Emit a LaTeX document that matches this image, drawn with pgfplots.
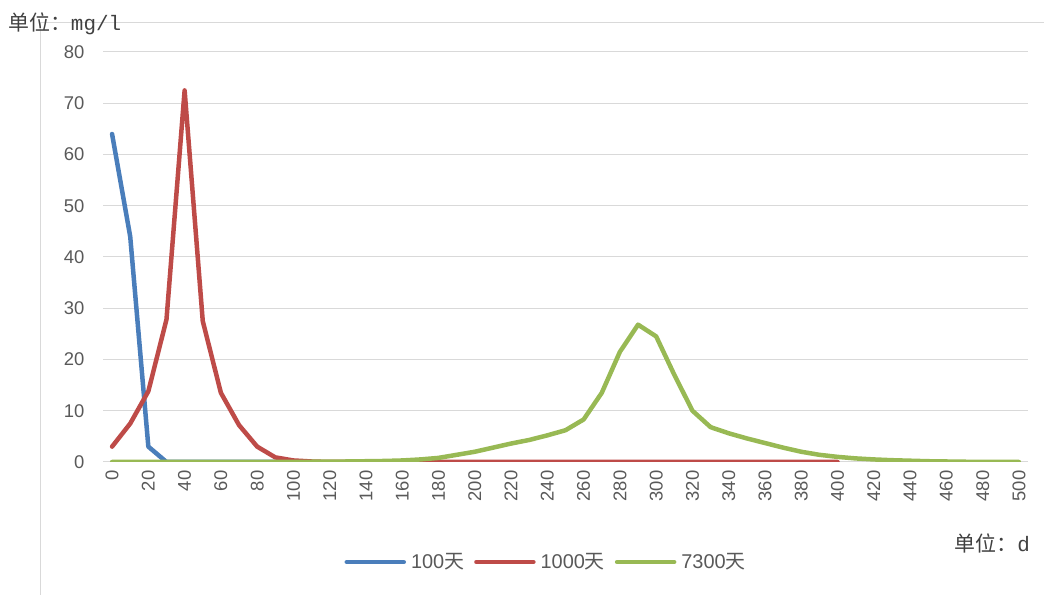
\documentclass[border=0pt]{standalone}
\usepackage{pgfplots}
\pgfplotsset{compat=1.18}
\usepackage{fontspec}
\setmainfont{Liberation Sans}
\setmonofont{Liberation Mono}
\newfontfamily\cjk{Noto Sans CJK SC}
\definecolor{cblue}{HTML}{4A7EBB}
\definecolor{cred}{HTML}{BE4B48}
\definecolor{cgreen}{HTML}{98B954}
\definecolor{tickgray}{HTML}{595959}
\definecolor{gridgray}{HTML}{D9D9D9}
\begin{document}
\begin{tikzpicture}
\useasboundingbox (0,0) rectangle (1044bp,595bp);
\draw[gridgray, line width=1bp] (40bp,0bp) -- (40bp,572.5bp) -- (1044bp,572.5bp);
\begin{axis}[
  scale only axis,
  width=925bp, height=410bp,
  at={(103bp,133bp)}, anchor=south west,
  xmin=-5, xmax=505, ymin=0, ymax=80,
  xtick={0,20,...,500},
  ytick={0,10,...,80},
  xticklabel pos=bottom, yticklabel pos=left,
  axis line style={draw=none},
  ymajorgrids, grid style={gridgray, line width=1bp},
  major tick length=0pt,
  tick style={draw=none},
  /pgf/number format/assume math mode=true,
  /pgf/number format/1000 sep={},
  ticklabel style={font=\fontsize{18.5}{20}\selectfont, text=tickgray},
  xticklabel style={rotate=90, anchor=east, xshift=-5bp},
  yticklabel style={xshift=-15bp},
  legend style={at={(0.479,-0.244)}, anchor=center, draw=none, fill=none,
    font=\fontsize{20}{22}\selectfont, text=tickgray, legend columns=3,
    /tikz/every odd column/.append style={column sep=3bp},
    /tikz/every even column/.append style={column sep=8bp}},
  legend cell align=left,
  legend image code/.code={\draw[#1, line width=4.5bp] (0bp,0bp) -- (57bp,0bp);},
  every axis plot/.append style={line width=4.5bp, line join=round, line cap=round, mark=none},
]
\addplot[cblue] coordinates {
(0,64) (10,44) (20,3) (30,0) (40,0) (50,0) (60,0) (70,0) (80,0) (90,0) (100,0)
};
\addlegendentry{100{\cjk 天}}
\addplot[cred] coordinates {
(0,3) (10,7.5) (20,13.8) (30,27.8) (40,72.5) (50,27.5) (60,13.5) (70,7.2) (80,3) (90,0.9) (100,0.3) (110,0.1)
(120,0) (130,0) (140,0) (150,0) (160,0) (170,0) (180,0) (190,0) (200,0) (210,0) (220,0) (230,0) (240,0)
(250,0) (260,0) (270,0) (280,0) (290,0) (300,0) (310,0) (320,0) (330,0) (340,0) (350,0) (360,0) (370,0)
(380,0) (390,0) (400,0)
};
\addlegendentry{1000{\cjk 天}}
\addplot[cgreen] coordinates {
(0,0) (10,0) (20,0) (30,0) (40,0) (50,0) (60,0) (70,0) (80,0) (90,0) (100,0) (110,0.05) (120,0.08)
(130,0.1) (140,0.15) (150,0.2) (160,0.3) (170,0.5) (180,0.8) (190,1.4) (200,2.0) (210,2.8) (220,3.6)
(230,4.3) (240,5.2) (250,6.2) (260,8.3) (270,13.5) (280,21.5) (290,26.8) (300,24.5) (310,17) (320,10)
(330,6.8) (340,5.6) (350,4.6) (360,3.7) (370,2.8) (380,2.0) (390,1.4) (400,1.0) (410,0.7) (420,0.5)
(430,0.35) (440,0.25) (450,0.15) (460,0.1) (470,0.05) (480,0.03) (490,0.01) (500,0)
};
\addlegendentry{7300{\cjk 天}}
\end{axis}
\node[anchor=base west, text=black!75, inner sep=0pt, font=\fontsize{21}{23}\selectfont] at (8bp,564bp) {{\cjk 单位：}\texttt{mg/l}};
\node[anchor=base east, text=black!75, inner sep=0pt, font=\fontsize{21}{23}\selectfont] at (1030bp,43bp) {{\cjk 单位：}\texttt{d}};
\end{tikzpicture}
\end{document}
